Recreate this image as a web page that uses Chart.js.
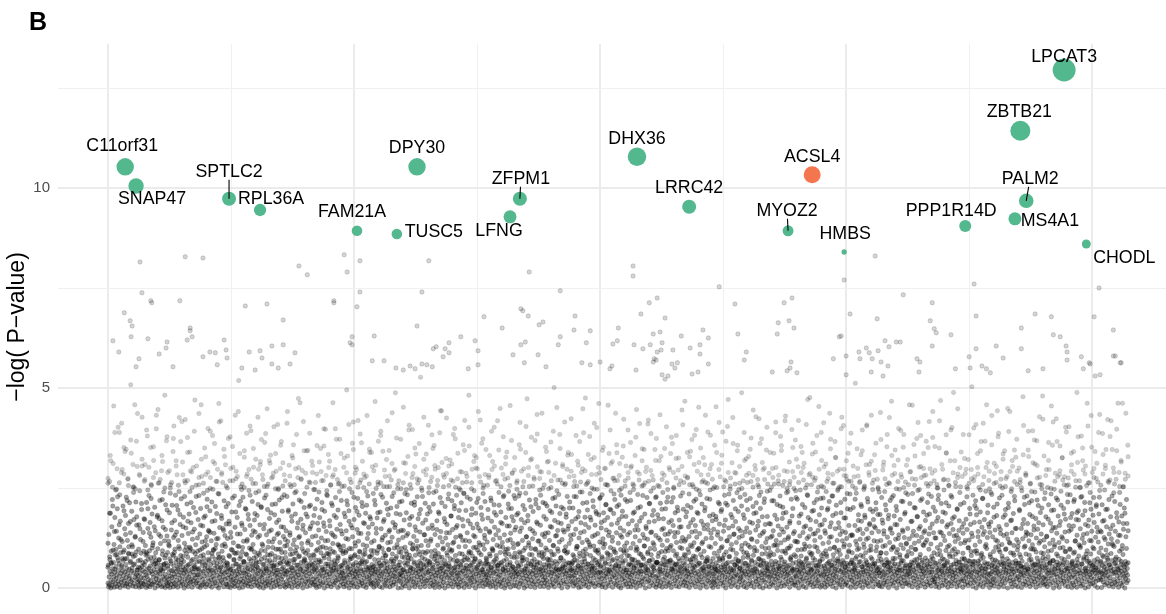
<!DOCTYPE html>
<html>
<head>
<meta charset="utf-8">
<script src="https://cdn.jsdelivr.net/npm/chart.js@4.4.1/dist/chart.umd.min.js"></script>
<style>
html,body{margin:0;padding:0;background:#fff;}
#wrap{position:relative;width:1166px;height:614px;}
canvas{display:block;}
</style>
</head>
<body>
<div id="wrap"><canvas id="c" width="1166" height="614"></canvas></div>
<script>
// ---------------- DATA ----------------
// highlighted genes (x = gene rank in thousands, y = -log(P))
const geneNames = ["C11orf31","SNAP47","SPTLC2","RPL36A","FAM21A","DPY30","TUSC5","ZFPM1","LFNG","DHX36","LRRC42","ACSL4","MYOZ2","HMBS","PPP1R14D","PALM2","MS4A1","LPCAT3","ZBTB21","CHODL"];
const geneRankK = [0.35,0.57,2.46,3.09,5.06,6.28,5.87,8.37,8.17,10.75,11.81,14.31,13.82,14.96,17.42,18.66,18.43,19.43,18.54,19.88];
const geneLogP  = [10.53,10.05,9.73,9.45,8.93,10.53,8.85,9.73,9.28,10.78,9.53,10.33,8.93,8.40,9.05,9.68,9.23,12.95,11.43,8.60];
const geneScore = [76,59,49,38,28,76,28,49,42,86,49,72,30,7,36,53,42,132,100,20];
const geneGroup = ["hit","hit","hit","hit","hit","hit","hit","hit","hit","hit","hit","known","hit","hit","hit","hit","hit","hit","hit","hit"];

// individually readable background genes (upper part of the cloud)
const sparseX = [0.65,1.57,1.93,3.88,4.05,4.80,4.86,5.12,0.69,0.87,0.89,1.46,2.79,3.23,4.59,4.59,5.12,5.06,0.33,0.45,0.49,3.56,1.67,1.67,0.47,0.10,0.81,1.20,1.18,1.61,1.71,2.36,2.40,0.22,1.04,1.93,2.07,2.18,2.42,2.87,3.09,3.13,3.33,3.56,3.80,4.96,4.92,4.96,0.63,3.33,3.46,3.70,2.22,0.57,1.32,2.72,2.99,
6.52,6.38,8.56,9.19,7.64,8.39,8.43,8.54,6.28,8.01,8.76,8.84,9.49,9.47,9.80,10.37,5.41,7.17,6.93,7.46,7.52,6.61,6.67,6.85,6.93,6.81,9.19,9.15,9.72,10.26,10.35,8.39,8.48,8.23,8.74,5.37,5.61,5.85,6.00,6.14,6.24,6.38,6.48,6.59,7.32,7.52,8.46,8.90,9.63,9.80,10.00,10.20,10.24,
10.67,10.67,12.42,15.59,14.96,11.00,11.16,12.74,13.74,13.90,15.08,15.63,10.83,11.32,13.62,13.84,13.94,13.60,12.80,11.08,11.22,12.09,12.20,11.65,14.86,14.90,15.79,10.69,10.87,11.02,11.16,11.24,11.26,11.48,11.83,12.03,12.03,12.97,12.93,15.00,15.26,15.41,15.47,15.65,15.87,15.28,15.53,11.10,11.08,11.14,11.46,11.52,11.57,12.20,14.74,13.88,15.85,10.73,11.87,11.99,13.50,13.80,13.86,14.00,15.51,11.26,11.38,15.00,15.75,
17.60,20.14,16.16,16.75,17.64,19.17,18.84,20.04,16.71,16.79,16.83,18.56,20.43,17.13,19.21,19.35,16.02,16.10,16.75,18.05,19.47,19.49,19.49,17.64,18.56,20.43,20.47,17.50,18.19,19.78,16.44,16.50,15.71,20.57,20.59,19.94,19.96,17.52,17.76,17.85,17.93,19.00,18.70,19.82,16.48,17.22,20.06,20.16];
const sparseY = [8.15,8.28,8.25,8.05,7.83,8.33,7.90,8.18,7.38,7.18,7.13,7.18,7.05,7.10,7.18,7.13,7.40,7.03,6.88,6.68,6.55,6.70,6.50,6.43,6.28,6.18,6.23,6.15,6.00,6.20,6.28,6.20,5.95,5.90,5.85,5.78,5.90,5.88,5.75,5.90,5.93,5.75,6.05,6.08,5.88,6.28,6.13,6.08,5.73,5.60,5.50,5.60,5.58,5.53,5.53,5.50,5.45,
8.18,7.40,7.90,7.43,6.78,6.98,6.93,6.80,6.55,6.50,6.58,6.65,6.80,6.45,6.43,6.50,6.30,6.28,6.13,6.18,5.93,5.98,6.03,5.98,5.88,5.78,6.28,6.08,6.13,6.10,6.18,6.08,6.15,5.83,5.83,5.68,5.68,5.50,5.45,5.55,5.48,5.60,5.58,5.53,5.48,5.58,5.63,5.53,5.63,5.58,5.65,5.48,5.55,
8.05,7.80,7.53,8.30,7.70,7.13,7.25,7.10,7.13,7.25,6.85,6.73,6.85,6.75,6.63,6.68,6.50,6.35,6.35,6.35,6.40,6.45,6.25,6.30,6.28,6.30,6.18,6.08,5.98,6.08,5.90,5.95,6.13,5.95,6.00,6.08,5.85,5.90,5.70,5.80,5.90,6.00,5.88,5.93,6.03,5.73,5.73,5.73,5.65,5.70,5.60,5.50,5.63,5.60,5.73,5.65,5.55,5.45,5.35,5.40,5.40,5.43,5.50,5.38,5.40,5.33,5.30,5.33,5.30,
7.60,7.50,7.33,7.13,6.80,6.78,6.85,6.78,6.68,6.48,6.38,6.50,6.45,6.33,6.33,6.28,6.15,6.15,6.05,6.05,6.05,5.90,5.70,5.98,5.98,5.80,5.80,5.78,5.75,5.78,5.73,5.65,5.65,5.63,5.63,5.63,5.60,5.50,5.55,5.48,5.38,5.48,5.43,5.48,5.40,5.48,5.30,5.33];

// dense background genes, -log(P) in hundredths, listed in gene-rank order
const cloudY100 = [
12,57,3,134,28,8,266,71,41,187,0,19,92,35,153,6,221,48,15,311,64,27,109,2,39,176,83,11,245,23,54,142,33,4,198,76,17,402,44,125,9,61,29,233,1,167,88,37,14,289,52,21,116,43,7,205,69,31,351,95,18,148,5,40,181,59,26,227,10,74,13,119,36,274,2,161,85,24,46,213,30,8,138,67,16,337,42,192,50,20,103,5,251,79,38,171,11,60,458,27,129,3,215,90,34,157,22,304,45,14,
31,68,7,158,19,2,243,50,37,121,14,87,26,196,4,305,44,63,11,139,25,9,173,58,40,271,16,106,33,82,1,214,47,29,380,6,149,72,21,12,231,38,93,3,164,55,18,127,42,256,8,185,66,35,10,113,27,319,46,77,15,202,0,143,61,39,24,432,53,13,178,30,98,5,262,41,134,20,70,9,219,36,111,45,57,17,293,3,168,84,28,43,152,6,240,49,22,118,75,34,1,208,62,14,368,26,130,11,89,
5,49,22,117,38,14,188,73,1,250,30,61,9,145,43,26,207,84,17,341,3,126,55,35,11,169,97,28,232,7,64,41,140,19,283,47,2,195,70,33,104,13,426,58,24,159,39,81,6,223,45,16,131,29,315,52,10,177,66,37,0,112,94,21,263,42,150,8,54,31,210,18,376,77,4,136,44,27,185,60,12,241,36,99,15,163,23,290,48,2,122,71,40,19,201,57,9,147,32,470,86,25,108,13,229,46,65,34,
18,92,4,171,33,46,258,12,67,135,27,1,199,80,39,322,7,115,56,21,155,42,10,237,74,30,103,15,48,180,3,284,63,36,128,9,222,51,25,399,88,43,142,16,69,6,193,34,276,58,20,118,44,2,166,79,29,247,11,96,38,137,23,361,50,13,204,72,41,109,5,186,61,31,297,17,124,85,0,235,45,26,151,8,65,35,418,53,19,174,40,106,14,264,76,28,144,3,218,57,37,131,22,308,47,10,160,
40,63,9,124,25,3,211,50,33,167,14,79,268,45,1,139,28,96,19,190,37,7,354,55,22,113,42,71,12,230,4,152,31,86,17,292,43,60,26,176,6,105,35,441,48,15,206,0,73,39,135,21,253,57,11,162,30,90,44,2,227,16,117,66,38,327,24,146,8,51,36,197,13,279,83,27,121,41,5,184,59,18,244,32,100,10,156,46,20,393,68,3,132,29,216,54,42,109,15,302,75,23,170,7,47,140,34,238,62,
23,54,13,181,36,6,127,87,44,242,18,65,2,158,29,316,41,9,203,72,26,110,15,47,271,34,0,148,59,38,225,11,93,21,386,49,5,133,43,68,17,196,30,260,8,116,56,39,174,14,82,25,332,46,1,145,63,35,209,12,101,20,287,52,42,123,4,183,70,31,248,16,97,37,164,7,58,27,409,45,19,137,76,10,220,33,114,3,299,61,40,153,22,89,48,192,28,255,14,129,66,6,233,36,105,43,
2,76,34,143,16,41,229,9,59,116,27,191,45,5,307,68,20,132,38,97,11,254,52,30,167,1,85,43,210,24,358,63,14,120,37,72,7,185,49,28,241,18,102,40,150,3,276,57,33,126,12,220,80,25,463,46,8,172,64,35,111,19,294,54,0,157,42,91,26,201,10,236,70,39,138,15,62,31,343,48,4,178,94,22,118,44,17,265,56,36,148,6,207,74,29,108,13,317,51,41,163,21,83,9,246,47,
15,61,39,198,7,27,130,93,1,285,45,22,162,56,11,114,36,240,70,4,176,31,18,349,66,43,125,9,214,52,29,103,14,269,80,38,154,0,192,47,24,397,60,12,141,33,86,41,231,5,119,55,20,301,73,35,168,10,98,28,258,46,3,137,64,42,206,17,111,37,283,50,8,181,89,26,128,13,226,58,44,372,19,147,67,32,1,195,75,21,107,40,262,53,6,159,30,95,15,219,48,38,135,25,
36,58,10,105,24,3,255,69,42,178,17,89,31,143,6,218,51,27,330,14,122,62,40,193,0,99,33,272,47,20,157,8,74,38,239,13,128,55,29,415,44,4,171,80,23,113,35,201,11,64,41,296,26,146,2,224,57,37,117,16,182,92,30,263,7,48,43,136,19,363,60,12,204,71,34,108,5,251,45,25,161,39,85,15,187,53,1,280,66,28,124,9,230,46,42,152,22,78,32,339,50,18,173,11,94,38,
8,83,29,160,44,13,236,54,2,118,35,71,19,208,40,307,6,137,60,25,175,11,94,37,259,48,16,104,30,62,4,190,43,381,22,148,57,34,120,1,227,75,39,166,14,88,27,295,50,9,132,42,67,20,212,5,253,59,33,113,17,183,96,41,344,26,145,3,52,36,200,12,270,72,23,127,45,7,164,61,31,238,15,100,38,151,28,488,47,10,186,79,21,109,43,248,56,0,141,32,90,18,215,65,35,
26,50,14,144,38,1,217,78,31,126,9,263,46,21,170,63,40,102,5,312,57,28,188,17,85,42,233,11,136,69,35,395,23,0,158,52,44,112,19,249,73,30,179,7,99,39,286,48,15,129,61,24,207,3,153,82,37,335,13,45,118,29,228,56,8,173,41,91,20,270,66,34,140,2,196,49,27,106,16,244,76,43,162,10,59,32,427,53,22,133,4,212,87,36,118,18,297,47,12,185,68,39,149,25,238,58,
43,66,4,191,20,35,122,91,11,277,48,28,149,58,7,210,39,16,356,72,1,134,32,84,24,242,45,13,168,61,38,107,9,301,54,30,186,2,77,41,226,18,141,64,27,443,50,6,115,36,97,14,253,44,23,174,69,0,204,33,125,57,40,286,12,159,81,26,108,47,5,235,62,31,138,19,320,53,42,180,10,92,37,218,25,146,3,267,70,34,115,15,198,51,44,373,21,127,60,8,232,38,156,29,
10,53,33,176,2,22,249,86,45,131,15,59,38,213,6,290,67,27,119,42,155,18,237,50,1,344,78,36,104,12,194,57,30,265,9,138,47,24,168,70,41,402,3,117,55,19,222,32,89,14,183,44,25,297,63,7,150,39,101,28,243,51,16,128,74,0,187,35,326,48,21,160,11,95,43,224,58,31,113,5,279,66,38,143,17,201,83,26,362,46,13,172,40,108,4,256,54,34,132,20,216,61,9,148,29,
34,71,19,115,41,8,196,47,25,282,60,13,139,37,80,3,225,52,30,167,16,99,44,316,6,121,65,39,208,22,152,55,11,267,35,1,182,73,43,107,18,418,49,28,144,9,239,62,32,125,15,89,40,190,4,300,57,24,161,12,102,46,228,36,68,20,133,0,272,51,42,176,7,96,29,340,58,17,119,45,210,10,85,38,155,23,256,64,2,137,33,48,199,14,286,54,27,112,41,168,6,231,76,37,145,
21,47,6,152,31,42,263,64,14,109,35,187,53,2,230,27,90,40,141,11,347,58,18,171,45,76,33,119,8,206,69,25,298,43,0,163,39,100,16,237,55,30,128,5,473,48,22,181,61,37,113,13,254,84,28,148,41,3,203,56,19,323,67,36,123,10,191,44,26,276,72,15,136,1,98,38,221,50,32,165,9,385,59,24,117,46,200,17,82,40,245,63,4,157,34,108,12,290,52,29,134,43,214,20,74,
4,85,37,128,13,26,211,51,44,172,20,95,9,315,62,33,138,1,248,57,40,119,16,193,71,29,365,46,7,152,38,83,22,224,11,106,54,35,281,3,169,66,42,130,18,205,49,27,451,60,14,144,31,92,45,234,6,115,39,186,24,270,75,12,161,47,0,121,34,309,56,19,198,68,41,140,10,258,52,28,103,36,177,15,87,43,229,2,332,63,25,155,38,111,8,215,50,30,132,17,292,59,44,166,
29,62,16,200,41,5,134,79,32,266,12,50,24,147,38,228,8,104,68,45,317,20,178,55,1,125,36,87,14,240,48,27,163,3,289,65,40,114,19,212,57,31,388,10,141,73,43,177,23,97,6,259,52,35,120,15,195,60,26,334,2,151,46,39,108,17,236,81,30,170,9,284,63,42,129,13,218,54,25,105,37,412,49,4,157,70,33,191,11,92,44,247,21,136,58,38,301,7,183,66,28,115,40,226,
14,56,38,164,24,3,233,74,9,123,42,188,51,30,299,18,110,64,1,208,37,145,27,258,47,11,176,85,35,131,6,336,60,43,197,21,101,39,243,15,159,53,28,117,2,274,71,44,186,32,91,12,221,49,25,437,58,8,138,36,204,19,269,66,41,112,4,171,55,29,311,13,150,46,0,232,78,34,127,22,192,62,40,355,7,143,50,26,105,17,255,69,38,179,10,94,45,216,31,133,3,289,57,20,
37,80,11,139,27,45,219,57,3,305,33,17,168,62,40,111,8,246,50,23,190,70,36,128,14,377,55,1,156,43,97,29,234,12,145,65,39,270,20,118,48,6,203,35,84,42,176,16,318,58,26,134,9,257,73,41,105,22,185,53,0,291,38,149,61,30,226,15,122,46,44,420,19,165,68,4,211,34,99,25,242,56,13,140,39,281,71,31,113,7,194,49,43,167,18,346,59,28,131,2,228,64,
9,64,31,183,18,43,125,87,25,254,6,54,40,212,14,329,61,35,146,2,107,45,239,21,173,59,11,282,77,38,134,27,198,50,4,403,66,33,119,17,227,42,93,8,164,56,29,296,13,141,70,37,106,1,215,48,24,361,63,44,156,10,249,52,32,128,19,188,81,41,275,5,114,58,26,202,16,139,46,36,325,3,170,67,28,101,43,230,12,153,55,39,445,22,126,75,7,197,34,264,49,15,117,
45,59,20,121,5,30,190,72,42,275,12,97,36,153,27,235,1,328,56,16,107,40,201,65,33,140,8,259,49,24,171,80,44,113,13,382,53,37,156,3,222,68,29,127,18,292,57,41,186,10,99,34,243,21,136,62,0,350,46,28,167,15,210,76,39,115,7,269,51,43,148,23,193,60,32,432,11,124,47,2,224,71,35,158,19,283,54,26,104,38,180,14,245,66,42,137,6,309,50,30,168,17,
1,74,35,147,22,13,253,48,39,111,8,179,63,28,339,44,17,132,55,3,214,41,92,25,160,69,36,278,11,123,52,45,196,19,103,31,390,58,6,142,38,83,14,232,47,27,170,0,266,61,42,118,21,207,54,33,471,9,150,78,40,128,16,247,50,26,184,4,109,37,313,65,23,155,12,219,46,43,135,29,289,57,7,166,73,34,114,18,238,53,31,357,2,191,67,41,126,15,262,48,24,143,
27,66,8,205,37,44,130,55,19,268,31,89,4,174,42,234,14,112,62,35,323,1,150,49,26,196,77,40,107,10,287,58,33,139,18,224,45,6,375,70,29,121,43,162,13,252,53,38,186,2,101,36,306,64,24,145,16,213,47,41,116,9,271,59,30,167,21,423,73,3,131,39,199,12,240,56,34,104,25,178,44,0,296,68,20,141,37,223,51,15,159,32,86,5,345,61,43,124,28,260,48,
42,58,17,161,3,28,244,82,34,127,11,67,40,218,23,299,51,7,143,45,106,30,260,14,182,60,37,388,21,119,47,0,209,35,94,26,155,9,282,63,43,133,18,230,55,31,113,4,344,71,39,174,13,202,52,27,140,44,266,6,120,65,36,430,22,189,48,10,152,33,99,41,241,16,128,57,29,315,2,167,74,38,105,20,222,50,12,180,43,291,61,25,136,8,249,46,35,117,15,370,
6,79,30,116,26,45,222,53,14,303,38,0,163,68,41,130,19,245,47,28,185,9,96,36,339,59,23,139,4,270,64,43,110,17,201,52,33,155,1,409,75,25,124,40,231,12,176,56,37,283,20,104,48,8,147,31,84,44,258,15,192,62,27,362,3,135,50,39,213,11,119,70,34,275,22,166,57,5,101,42,240,18,144,46,29,454,13,183,65,36,127,2,224,54,32,319,7,159,72,21,111,43,252,
32,55,12,170,40,2,137,93,27,241,16,60,35,195,7,287,48,22,114,44,216,67,30,153,10,372,57,39,128,19,230,51,4,181,33,83,24,262,13,102,62,42,148,29,326,0,207,54,36,119,18,244,73,11,163,45,95,26,297,8,134,58,41,188,21,253,47,3,142,34,69,15,406,63,38,109,25,222,52,9,175,43,280,14,124,61,31,198,6,337,56,40,156,20,107,46,235,28,131,1,267,65,
19,70,41,131,9,34,201,61,24,278,45,14,156,50,2,117,37,237,79,28,348,11,144,56,42,183,20,99,31,264,6,122,66,38,209,15,167,53,27,395,1,136,46,40,110,17,251,59,33,176,8,88,43,308,22,147,64,12,224,49,35,125,4,289,57,26,161,39,197,14,105,47,432,30,138,72,18,246,54,3,171,41,118,23,333,60,36,150,10,213,51,29,103,44,272,16,184,68,7,141,38,
38,52,5,184,29,15,119,88,43,226,3,64,26,162,39,306,12,143,57,34,241,20,106,46,8,195,71,31,353,16,127,54,40,173,1,263,62,25,114,44,219,10,150,49,36,467,18,137,66,28,101,6,231,55,41,180,14,286,74,33,122,22,204,47,0,158,38,96,17,320,59,30,133,9,247,52,43,171,24,108,63,13,277,45,35,145,4,216,68,27,384,19,126,50,42,189,11,238,58,32,112,
11,81,34,149,21,42,258,47,7,123,36,211,58,29,291,13,102,65,40,167,3,236,53,25,142,44,359,17,112,70,32,200,9,272,49,39,131,22,179,61,1,414,55,28,117,14,246,76,43,154,6,304,51,35,127,19,223,64,26,108,41,190,10,281,57,37,143,2,169,48,30,367,16,120,68,44,214,8,255,54,23,135,39,185,12,298,60,33,110,5,229,46,40,160,20,441,73,27,138,15,268,
24,63,15,192,39,4,125,51,31,259,10,84,44,176,23,232,58,1,350,36,140,67,27,109,13,211,46,42,166,6,297,55,33,130,20,245,71,38,119,8,187,50,26,383,17,153,62,41,103,2,270,48,35,205,12,136,79,29,318,43,16,161,57,5,227,40,94,24,146,32,489,60,11,178,45,37,116,19,254,69,28,132,3,198,52,43,285,14,124,65,34,168,7,239,49,22,111,40,340,56,18,152,
44,57,2,137,30,18,213,74,39,113,9,286,50,25,172,62,35,146,15,248,43,6,321,68,28,120,41,199,53,12,159,33,91,21,273,59,38,129,4,232,47,27,400,14,164,66,42,107,19,218,54,0,183,31,86,40,301,10,141,61,24,251,45,36,116,7,190,72,17,366,49,29,152,43,224,3,134,56,32,278,13,171,64,39,104,22,242,48,8,458,60,26,126,37,207,15,160,52,34,292,1,139,
17,78,36,165,8,27,234,49,41,128,14,61,23,202,5,312,54,38,145,19,102,45,264,30,181,66,11,117,40,378,56,2,154,34,225,21,90,43,136,9,291,59,29,109,16,250,73,39,177,4,131,48,25,343,62,13,196,37,98,44,158,22,279,52,0,123,33,212,67,42,114,18,441,57,26,168,10,241,47,35,138,3,304,64,20,186,40,106,15,229,55,31,149,7,327,61,43,121,24,259,50,
3,62,29,114,43,20,196,84,13,271,34,55,40,149,1,243,67,26,123,38,333,10,171,51,31,209,16,105,45,287,7,140,59,36,230,22,161,47,41,392,12,118,70,28,184,4,260,53,33,133,18,218,64,44,108,9,313,56,24,155,39,97,15,240,49,30,174,2,125,42,368,75,21,147,11,206,58,37,112,27,277,46,6,189,68,32,135,19,248,54,43,480,14,158,61,25,120,8,223,50,
28,72,10,178,22,40,129,59,4,251,37,92,17,208,45,296,30,111,63,9,162,42,235,24,143,54,38,357,13,120,69,0,195,33,103,47,267,19,151,57,35,423,7,137,65,27,220,14,180,50,43,114,2,283,61,31,166,20,242,46,39,128,11,326,58,25,101,36,199,16,258,71,44,140,6,172,53,30,390,18,117,64,41,215,3,275,49,23,156,34,98,12,233,56,42,146,26,308,1,186,67,
13,51,32,155,45,7,221,90,26,117,40,252,16,171,56,2,132,35,314,63,21,193,44,108,11,268,52,38,148,29,227,5,380,60,18,124,42,182,9,295,71,34,113,24,214,48,0,159,37,85,43,256,15,136,66,28,405,41,3,170,55,19,119,33,239,62,10,197,46,27,142,39,289,12,101,58,44,226,22,164,69,6,341,36,127,50,17,208,31,152,64,1,265,43,115,20,185,53,38,434,25,143,
41,67,20,140,1,36,208,56,28,285,15,78,44,169,33,245,8,121,61,39,346,23,153,48,12,197,74,31,110,42,264,5,135,58,26,379,17,178,52,43,123,10,230,69,35,157,3,300,47,21,104,38,216,14,142,63,40,272,9,188,55,30,116,18,462,45,2,165,71,37,239,25,131,50,11,319,60,42,180,6,106,34,253,16,147,57,29,200,44,0,287,66,24,128,38,221,13,161,49,32,357,19];

// more background genes in the 0.45 - 1.1 range (hundredths, rank order)
const cloudLowY100 = [
52,78,61,95,47,84,69,103,56,90,73,49,87,64,108,58,81,45,97,70,54,92,66,85,50,76,100,59,88,63,
71,48,93,60,82,55,105,67,44,89,74,52,98,62,79,46,86,57,102,68,91,53,77,49,95,65,83,58,107,72,
46,87,63,99,54,75,50,92,68,104,57,81,47,95,70,60,88,53,79,101,64,85,49,73,96,58,90,66,51,83,
94,59,76,48,102,69,86,55,80,45,97,63,74,52,89,106,61,84,50,71,93,57,78,47,99,67,87,54,82,62,
58,81,50,96,65,88,46,75,100,60,84,53,91,69,47,79,103,56,86,63,94,51,72,98,59,83,48,77,90,66,
83,64,105,52,78,59,93,47,87,70,55,99,62,80,49,96,67,85,53,74,101,57,89,45,76,92,61,82,50,97,
65,99,55,84,46,90,72,58,106,63,79,51,94,68,86,48,77,100,60,88,54,73,95,49,81,67,103,56,85,70,
49,74,91,57,80,66,102,53,88,61,45,97,75,59,85,50,93,69,81,56,104,64,47,90,72,98,58,78,52,87,
77,55,86,68,94,48,71,107,60,83,52,96,65,89,47,79,58,100,73,54,91,62,84,46,98,67,76,51,93,59,
90,62,47,83,70,98,56,79,50,92,66,85,59,103,48,74,95,63,87,53,78,101,61,88,45,82,69,97,55,75,
54,96,67,88,45,81,60,100,72,51,94,63,86,57,77,105,49,90,68,83,52,97,64,79,47,91,71,58,99,66,
68,47,93,58,85,74,52,99,63,81,48,89,70,104,56,78,95,61,84,50,92,67,76,54,102,60,87,46,80,73,
100,71,53,90,64,79,46,95,58,86,69,50,97,76,61,88,55,102,67,82,48,93,73,57,85,62,99,52,78,89,
57,84,66,106,49,77,92,60,87,54,100,70,47,83,64,95,58,80,51,97,72,62,89,46,75,104,55,91,68,81,
86,50,79,63,98,56,72,47,91,67,84,59,103,52,78,93,61,88,48,74,96,65,82,53,101,69,57,94,76,60,
62,93,48,80,71,104,57,87,65,52,96,74,60,89,45,83,68,99,55,79,91,50,86,63,97,72,58,84,49,106,
75,58,97,69,53,88,62,101,47,82,73,56,94,66,85,51,78,98,60,90,64,46,87,71,54,100,67,81,59,92,
93,67,55,86,76,48,99,61,84,57,91,70,50,105,64,80,53,96,73,58,88,47,82,68,95,62,77,51,102,85,
48,82,72,97,59,90,65,54,88,76,103,51,79,62,94,68,46,85,57,100,74,63,91,49,78,96,60,87,55,71,
80,101,60,76,50,93,67,85,56,98,45,73,89,64,81,52,95,70,58,86,107,61,77,48,92,66,84,53,99,63];

// more background genes in the 0.5 - 2.4 range (hundredths, rank order)
const cloudMidY100 = [
112,187,63,205,141,96,228,158,121,74,193,134,219,103,166,85,239,127,178,52,148,211,116,171,89,198,137,224,107,153,68,182,
174,129,221,58,146,195,108,237,163,81,132,206,119,184,71,153,229,102,167,93,214,140,49,189,125,231,157,99,176,118,203,144,
139,215,94,168,123,236,77,181,149,110,203,61,160,127,225,88,190,135,104,217,156,66,199,117,172,232,98,143,186,79,209,131,
201,106,159,232,83,142,188,115,56,210,134,170,97,226,152,121,64,195,138,179,109,238,87,163,129,216,147,73,185,113,204,154,
128,181,70,222,145,101,196,163,118,233,86,155,212,132,59,176,109,241,143,92,187,124,208,167,78,150,227,105,191,137,62,214,
163,95,207,136,178,114,51,219,149,188,103,234,126,171,82,197,141,115,229,67,158,204,120,184,99,144,236,131,75,174,212,108,
215,144,104,185,62,229,133,170,91,202,117,157,239,80,146,190,126,213,55,165,138,223,97,180,112,206,151,69,194,128,171,236,
119,227,87,160,198,131,72,214,150,107,183,236,124,65,175,142,218,96,189,133,57,207,164,114,231,84,155,199,121,178,101,224,
183,111,237,150,76,196,128,168,220,99,143,58,210,161,118,232,89,179,137,205,70,154,189,106,226,131,164,48,202,145,93,185,
147,200,121,66,229,173,104,191,138,240,81,159,214,115,177,54,203,132,186,95,224,150,112,169,209,74,140,195,127,235,88,162,
208,132,179,94,221,113,160,239,71,187,145,102,200,167,57,231,125,154,86,211,139,182,108,226,64,173,120,197,149,91,215,135,
102,169,226,139,60,193,152,117,238,84,178,206,129,163,73,217,142,189,98,233,111,158,201,67,146,222,125,184,52,171,140,210,
191,75,156,212,118,235,97,176,134,198,61,149,227,106,183,140,219,82,165,123,204,93,188,155,231,69,137,214,114,179,100,160,
130,218,108,172,53,205,147,187,92,238,124,162,78,199,141,226,115,180,63,209,152,104,233,129,170,86,194,136,221,57,157,200,
225,143,84,199,127,163,230,101,186,67,151,214,118,175,139,236,90,196,133,58,222,108,169,147,204,79,182,122,215,158,95,191,
154,197,116,240,88,170,135,208,62,182,146,226,103,159,194,124,77,217,141,185,110,234,56,166,131,201,96,178,148,219,69,139,
114,182,235,150,79,202,125,167,221,93,138,190,59,213,158,106,231,174,130,85,196,144,209,73,161,119,228,101,185,137,66,206,
199,128,165,82,224,141,109,188,153,239,71,177,120,210,95,146,232,62,183,135,201,112,170,87,218,149,104,193,54,160,227,131,
136,213,98,179,145,58,220,163,117,200,86,238,129,172,68,194,151,109,225,80,156,207,124,185,91,234,142,176,64,216,118,189,
170,105,229,134,193,76,155,213,118,182,53,204,140,227,100,167,126,196,83,221,148,111,238,72,176,132,209,97,161,187,60,143];

// more background genes in the 2.4 - 5.3 range (hundredths, rank order)
const cloudUpY100 = [
262,318,455,247,389,296,341,272,508,253,367,284,427,309,245,351,276,398,263,331,482,289,258,374,305,241,416,268,339,293,
301,257,436,279,350,244,392,316,267,461,288,329,250,378,302,273,519,246,343,285,405,261,322,297,371,254,448,312,278,336,
249,366,283,412,259,325,298,474,271,343,252,387,306,264,431,291,355,243,317,278,398,260,336,302,495,248,362,287,419,270,
285,241,347,303,466,265,392,254,321,280,438,297,258,372,313,246,407,276,350,262,527,292,335,251,383,306,269,443,283,324,
256,310,399,273,245,358,287,482,263,331,298,420,250,346,276,392,305,260,449,284,327,242,369,295,268,414,253,339,301,377,
272,434,291,249,352,317,268,501,243,384,304,261,339,423,280,255,366,298,475,266,321,247,401,288,344,259,457,311,275,358,
244,327,268,395,301,256,446,285,348,263,410,294,250,374,318,271,522,246,336,289,381,258,304,467,277,342,253,396,314,265,
308,261,382,249,453,296,332,270,404,255,361,287,246,488,319,264,347,281,428,253,373,300,242,339,276,415,260,356,293,249,
267,351,243,419,289,312,258,476,277,340,252,389,303,266,437,284,326,248,398,297,271,362,255,512,280,333,246,405,309,262,
294,248,371,315,259,426,282,345,266,394,251,307,458,273,330,244,381,299,261,416,287,354,250,469,270,338,256,401,318,276,
253,384,297,262,503,278,336,245,412,301,269,358,286,443,255,322,274,391,248,345,292,264,478,281,329,241,370,306,259,422,
281,319,455,247,366,293,270,402,258,337,284,489,251,350,305,263,431,276,312,244,386,299,267,418,289,343,254,462,272,328];

// further background genes in the 2.4 - 4.8 range (hundredths, rank order)
const cloudUp2Y100 = [
274,331,252,389,298,263,412,285,347,256,370,309,248,436,281,322,267,395,302,259,353,288,446,271,316,250,378,293,264,405,
318,257,366,283,421,269,340,251,392,305,276,458,262,328,290,249,381,311,266,415,284,347,255,374,299,268,432,279,336,260,
251,387,296,272,349,261,427,308,283,364,254,319,275,403,292,246,357,313,268,441,280,331,258,384,301,273,416,287,344,263,
289,246,356,315,268,398,281,334,257,463,296,271,372,254,325,288,409,264,346,302,252,385,317,276,431,260,339,293,249,367,
263,342,279,418,254,311,294,375,268,248,452,286,329,259,396,304,273,361,250,322,283,407,266,349,297,256,388,314,277,425,
305,270,384,252,337,291,263,419,279,355,248,316,300,441,265,373,284,257,331,296,402,269,345,253,378,310,275,456,288,326,
247,358,292,266,404,281,320,255,369,303,274,437,258,341,289,251,392,312,270,349,262,415,297,278,334,254,381,307,265,448,
293,262,379,250,326,284,461,271,352,299,257,395,316,268,338,281,249,422,305,275,364,260,331,290,411,255,346,302,267,386,
270,319,256,433,287,349,263,301,377,252,324,295,268,408,280,339,258,371,309,247,452,283,326,264,390,298,272,357,251,414,
312,253,367,289,275,426,260,343,304,249,389,282,329,266,445,296,258,361,314,271,402,287,252,337,301,268,379,256,418,291,
258,396,277,322,264,354,301,250,471,286,335,269,381,297,255,413,310,274,348,262,366,292,253,427,281,318,266,387,305,249,
299,266,343,255,408,282,317,270,362,251,439,295,273,384,261,331,306,248,399,284,352,265,321,290,457,257,374,302,276,336,
282,351,261,376,294,250,418,309,272,337,256,395,288,264,448,301,279,324,253,383,296,268,409,285,343,259,367,314,248,431,
261,304,387,272,335,254,449,291,319,266,372,300,251,406,283,345,262,393,310,275,428,258,330,296,364,249,415,287,278,355,
325,278,256,403,292,341,268,378,251,318,285,462,263,352,299,274,389,257,334,307,421,270,346,260,397,289,315,253,437,280];

const geneRankMaxK = 20.73;            // last gene rank (thousands)
const xGridK = [0,2.5,5,7.5,10,12.5,15,17.5,20];
const yGrid = [0,2.5,5,7.5,10,12.5];
const yTickLabels = {0:"0",5:"5",10:"10"};
const yTitle = "\u2212log( P\u2212value)";
const panelTag = "B";

// ---------------- LAYOUT / STYLE ----------------
const labelOffset = [[-3,-21],[16,13],[0,-27],[11,-11],[-5,-19],[0,-19],[37,-2],[1,-20],[-11,14],[0,-18],[0,-19],[0,-18],[-1,-20],[1,-18],[-14,-15],[4,-22],[35,2],[0,-13],[-1,-19],[38,14]];
const labelSegment = [0,0,1,0,0,0,0,1,0,0,0,0,1,0,0,1,0,0,0,0];
const FONT = '"Liberation Sans", Arial, Helvetica, sans-serif';
const GREEN = '#54b88f', ORANGE = '#f4764f';

function rankPoints(vals){
  const n = vals.length;
  return vals.map((v,i)=>({x: i*geneRankMaxK/(n-1), y: v/100}));
}
const cloudPts = rankPoints(cloudY100).concat(rankPoints(cloudLowY100), rankPoints(cloudMidY100), rankPoints(cloudUpY100), rankPoints(cloudUp2Y100));
const sparsePts = sparseX.map((x,i)=>({x, y: sparseY[i]}));
const genePts = geneRankK.map((x,i)=>({x, y: geneLogP[i]}));

// density compensation: fewer drawn genes than the original, so lower rows get more ink
function cloudAlpha(y){
  if (y < 2.2) return 0.38;
  if (y > 2.8) return 0.19;
  return 0.38 - (y-2.2)/0.6*0.19;
}
const cloudFill = (c)=>{ const p=c.raw; return 'rgba(0,0,0,'+cloudAlpha(p?p.y:3).toFixed(3)+')'; };
const cloudEdge = (c)=>{ const p=c.raw; return 'rgba(0,0,0,'+(cloudAlpha(p?p.y:3)*0.6).toFixed(3)+')'; };

const overlay = {
  id:'overlay',
  afterDatasetsDraw(chart){
    const {ctx, scales:{x,y}} = chart;
    ctx.save();
    ctx.font = '17.8px ' + FONT;
    ctx.textAlign = 'center';
    ctx.textBaseline = 'middle';
    geneNames.forEach((name,i)=>{
      const px = x.getPixelForValue(geneRankK[i]);
      const py = y.getPixelForValue(geneLogP[i]);
      const lx = px + labelOffset[i][0], ly = py + labelOffset[i][1];
      if (labelSegment[i]) {
        ctx.beginPath();
        ctx.moveTo(lx + (px-lx)*0.4, ly + 8);
        ctx.lineTo(px, py);
        ctx.lineWidth = 1.1;
        ctx.strokeStyle = '#000';
        ctx.stroke();
      }
      ctx.fillStyle = '#000';
      ctx.fillText(name, lx, ly);
    });
    // panel tag
    ctx.textAlign = 'left';
    ctx.textBaseline = 'alphabetic';
    ctx.font = 'bold 25px ' + FONT;
    ctx.fillText(panelTag, 29, 30);
    // y title
    ctx.translate(24, (chart.chartArea.top + chart.chartArea.bottom)/2 - 2);
    ctx.rotate(-Math.PI/2);
    ctx.textAlign = 'center';
    ctx.font = '23px ' + FONT;
    ctx.fillText(yTitle, 0, 0);
    ctx.restore();
  }
};

const isMajor = (v)=> Math.abs(v/5 - Math.round(v/5)) < 1e-6;

new Chart(document.getElementById('c'), {
  type:'scatter',
  data:{ datasets:[
    { data: cloudPts, pointRadius:2.25, pointBorderWidth:0.8,
      pointBackgroundColor: cloudFill, pointBorderColor: cloudEdge, pointHoverRadius:0 },
    { data: sparsePts, pointRadius:2.2, pointBorderWidth:0.9,
      pointBackgroundColor:'rgba(0,0,0,0.17)', pointBorderColor:'rgba(0,0,0,0.17)', pointHoverRadius:0 },
    { data: genePts, pointRadius: (c)=>Math.sqrt(geneScore[c.dataIndex]), pointBorderWidth:0,
      pointBackgroundColor: (c)=> geneGroup[c.dataIndex]==='known' ? ORANGE : GREEN, pointHoverRadius:0 }
  ]},
  options:{
    responsive:false, animation:false, devicePixelRatio:1, events:[],
    layout:{ autoPadding:false, padding:{ top:44, left:0, right:0, bottom:0 } },
    plugins:{ legend:{display:false}, tooltip:{enabled:false} },
    scales:{
      x:{ type:'linear', min:-1.016, max:21.5,
        afterBuildTicks:(s)=>{ s.ticks = xGridK.map(v=>({value:v})); },
        afterFit:(s)=>{ s.height = 0; s.paddingLeft = 0; s.paddingRight = 0; },
        ticks:{ display:false },
        grid:{ drawTicks:false, color:(c)=> isMajor(c.tick.value) ? '#ebebeb' : '#f0f0f0',
               lineWidth:(c)=> isMajor(c.tick.value) ? 2 : 1 },
        border:{ display:false } },
      y:{ type:'linear', min:-0.65, max:13.6,
        afterBuildTicks:(s)=>{ s.ticks = yGrid.map(v=>({value:v})); },
        afterFit:(s)=>{ s.width = 58; s.paddingTop = 0; s.paddingBottom = 0; },
        ticks:{ padding:8, color:'#4d4d4d', font:{ size:15, family:FONT },
                callback:(v)=> (yTickLabels[v] !== undefined ? yTickLabels[v] : '') },
        grid:{ drawTicks:false, color:(c)=> isMajor(c.tick.value) ? '#ebebeb' : '#f0f0f0',
               lineWidth:(c)=> isMajor(c.tick.value) ? 2 : 1 },
        border:{ display:false } }
    }
  },
  plugins:[overlay]
});
</script>
</body>
</html>
